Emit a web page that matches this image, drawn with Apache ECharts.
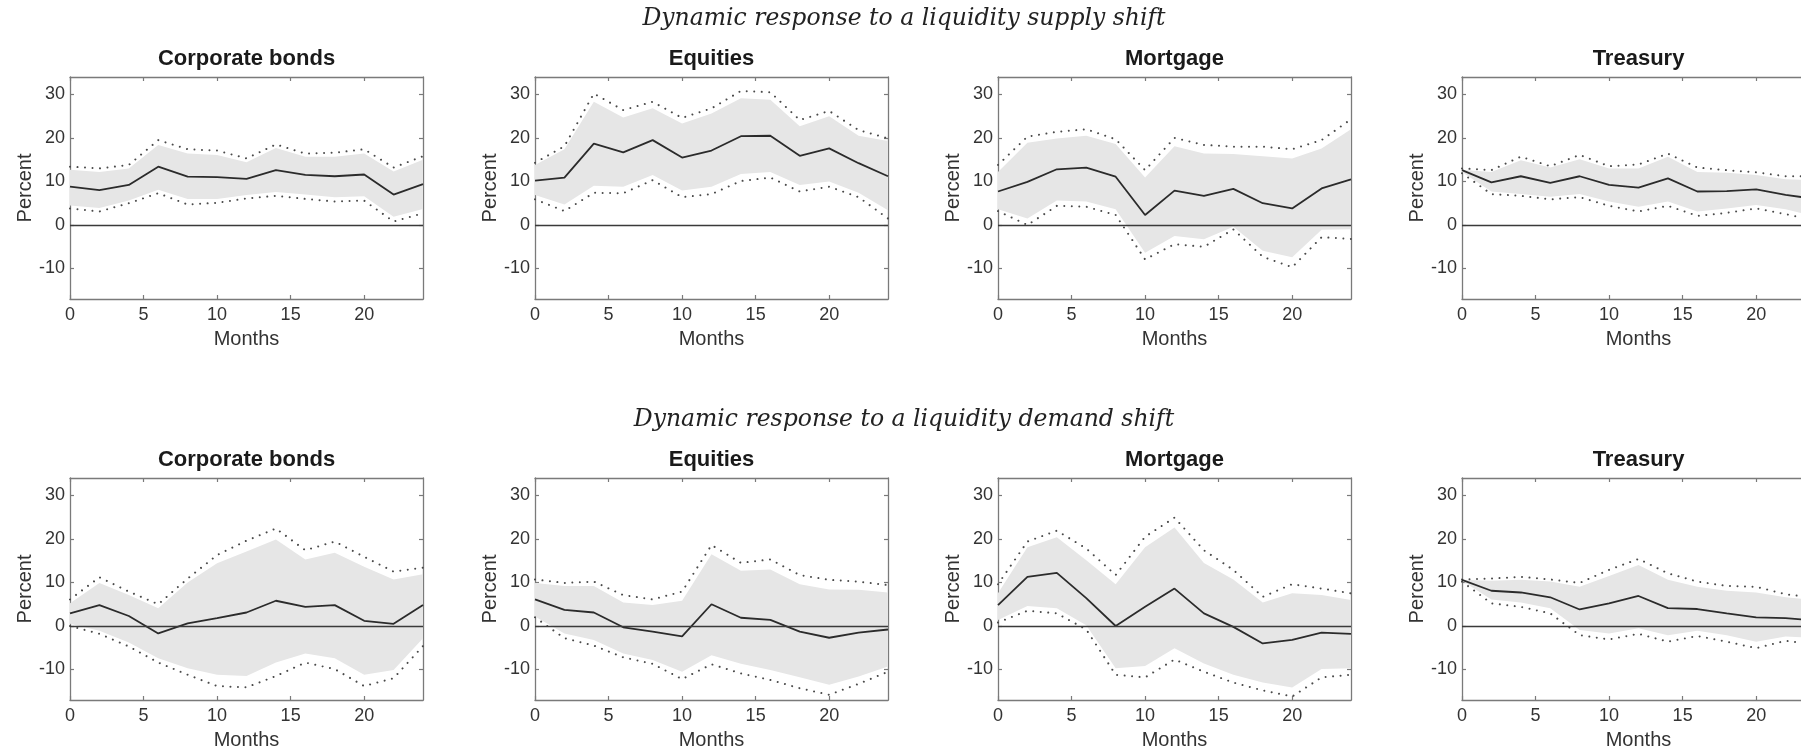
<!DOCTYPE html>
<html>
<head>
<meta charset="utf-8">
<script src="https://cdn.jsdelivr.net/npm/echarts@6/dist/echarts.min.js"></script>
<style>
  html, body { margin: 0; padding: 0; background: #ffffff; }
  #chart { width: 1801px; height: 755px; }
</style>
</head>
<body>
<div id="chart"></div>
<script>
// Horizon in months (estimates every second month)
const months = [0, 2, 4, 6, 8, 10, 12, 14, 16, 18, 20, 22, 24];
const assetNames = ['Corporate bonds', 'Equities', 'Mortgage', 'Treasury'];
const rowTitles = ['Dynamic response to a liquidity supply shift', 'Dynamic response to a liquidity demand shift'];
const xTickValues = [0, 5, 10, 15, 20];
const yTickValues = [-10, 0, 10, 20, 30];

// ---- Liquidity supply shift ----
const supplyCorpMid    = [8.8, 8.0, 9.2, 13.4, 11.1, 11.0, 10.6, 12.6, 11.5, 11.2, 11.6, 7.0, 9.4];
const supplyCorpBandHi = [12.7, 12.2, 13.0, 18.4, 16.4, 16.1, 14.4, 17.7, 15.7, 15.7, 16.4, 12.3, 15.0];
const supplyCorpBandLo = [4.5, 3.9, 5.6, 8.1, 6.0, 6.0, 6.9, 7.6, 7.0, 6.4, 6.6, 1.9, 3.7];
const supplyCorpDotHi  = [13.4, 13.0, 13.8, 19.5, 17.4, 17.1, 15.3, 18.5, 16.4, 16.6, 17.4, 13.2, 15.8];
const supplyCorpDotLo  = [3.8, 3.1, 5.0, 7.3, 4.7, 5.1, 6.1, 6.7, 6.0, 5.4, 5.6, 0.8, 2.7];

const supplyEqMid    = [10.2, 10.9, 18.7, 16.7, 19.5, 15.5, 17.1, 20.4, 20.5, 15.9, 17.6, 14.2, 11.2];
const supplyEqBandHi = [13.8, 17.4, 28.3, 24.7, 26.8, 23.3, 25.6, 29.1, 28.8, 22.7, 25.0, 20.5, 19.3];
const supplyEqBandLo = [6.9, 4.7, 9.0, 8.8, 11.5, 7.9, 8.8, 11.7, 12.2, 9.2, 10.0, 7.4, 3.4];
const supplyEqDotHi  = [14.3, 18.1, 30.2, 26.4, 28.3, 24.6, 26.8, 30.8, 30.5, 24.1, 26.2, 21.8, 19.9];
const supplyEqDotLo  = [5.9, 3.2, 7.4, 7.3, 10.3, 6.4, 7.1, 10.1, 10.9, 7.7, 8.8, 6.4, 1.5];

const supplyMortMid    = [7.7, 9.9, 12.8, 13.2, 11.1, 2.3, 7.9, 6.7, 8.3, 5.0, 3.8, 8.4, 10.5];
const supplyMortBandHi = [12.2, 18.9, 19.9, 20.5, 18.6, 10.9, 18.1, 16.4, 16.3, 15.8, 15.3, 17.6, 22.0];
const supplyMortBandLo = [3.6, 1.5, 5.6, 5.4, 3.6, -6.4, -2.5, -3.3, -0.4, -5.9, -7.4, -1.1, -1.0];
const supplyMortDotHi  = [13.8, 20.3, 21.4, 22.0, 19.7, 12.6, 20.0, 18.4, 18.0, 18.0, 17.4, 19.5, 24.3];
const supplyMortDotLo  = [3.2, 0.0, 4.4, 4.2, 2.3, -7.9, -4.4, -5.0, -1.0, -7.3, -9.7, -2.8, -3.2];

const supplyTreasMid    = [12.6, 9.8, 11.2, 9.7, 11.2, 9.2, 8.6, 10.7, 7.7, 7.8, 8.2, 6.9, 6.0];
const supplyTreasBandHi = [12.7, 12.2, 14.9, 13.2, 15.1, 13.0, 13.0, 15.7, 12.2, 12.0, 11.5, 10.5, 10.3];
const supplyTreasBandLo = [12.2, 7.7, 7.1, 6.5, 7.1, 5.4, 4.2, 5.4, 3.1, 3.8, 4.6, 3.6, 2.0];
const supplyTreasDotHi  = [13.0, 12.6, 15.7, 13.5, 16.1, 13.5, 13.9, 16.4, 13.2, 12.6, 12.1, 11.2, 11.2];
const supplyTreasDotLo  = [11.9, 7.1, 6.7, 5.9, 6.4, 4.4, 3.1, 4.4, 2.1, 2.8, 3.8, 2.5, 1.0];

// ---- Liquidity demand shift ----
const demandCorpMid    = [2.9, 4.8, 2.3, -1.7, 0.6, 1.8, 3.1, 5.8, 4.4, 4.8, 1.2, 0.5, 4.8];
const demandCorpBandHi = [5.2, 9.9, 7.1, 4.1, 10.0, 14.4, 17.1, 19.9, 15.3, 16.8, 13.6, 10.7, 11.9];
const demandCorpBandLo = [0.5, -1.1, -3.8, -7.4, -9.7, -11.2, -11.5, -8.4, -6.3, -7.4, -11.2, -10.1, -2.8];
const demandCorpDotHi  = [6.1, 11.2, 7.9, 5.0, 10.9, 16.3, 19.6, 22.4, 17.4, 19.4, 15.9, 12.5, 13.4];
const demandCorpDotLo  = [0.0, -1.8, -4.7, -8.4, -11.2, -13.8, -14.1, -11.5, -8.4, -9.9, -13.8, -12.0, -4.6];

const demandEqMid    = [6.1, 3.7, 3.1, -0.3, -1.3, -2.4, 5.0, 1.9, 1.4, -1.3, -2.7, -1.5, -0.8];
const demandEqBandHi = [9.9, 9.2, 9.2, 5.4, 4.8, 5.8, 16.5, 12.7, 13.0, 9.6, 8.4, 8.3, 7.7];
const demandEqBandLo = [2.2, -1.7, -3.2, -6.3, -7.8, -10.5, -6.7, -8.7, -10.1, -11.8, -13.5, -11.6, -9.3];
const demandEqDotHi  = [10.7, 9.9, 10.2, 7.1, 6.1, 7.9, 18.6, 14.5, 15.3, 11.7, 10.6, 10.2, 9.4];
const demandEqDotLo  = [2.0, -2.8, -4.5, -7.2, -8.7, -12.2, -8.8, -10.9, -12.4, -14.3, -15.8, -13.3, -10.5];

const demandMortMid    = [4.8, 11.3, 12.2, 6.4, 0.0, 4.4, 8.6, 2.9, -0.2, -4.0, -3.2, -1.5, -1.8];
const demandMortBandHi = [7.5, 18.1, 20.4, 15.1, 9.6, 18.1, 22.6, 14.5, 10.7, 5.4, 7.5, 7.1, 6.0];
const demandMortBandLo = [1.4, 4.6, 4.1, 0.2, -9.7, -9.2, -5.1, -8.6, -11.2, -13.0, -14.1, -9.9, -9.7];
const demandMortDotHi  = [9.6, 19.4, 21.9, 17.8, 11.7, 20.5, 24.9, 17.4, 12.9, 6.7, 9.6, 8.6, 7.5];
const demandMortDotLo  = [0.8, 3.5, 2.9, -0.8, -11.2, -11.8, -7.7, -10.5, -13.0, -14.8, -16.2, -11.8, -11.2];

const demandTreasMid    = [10.6, 8.1, 7.7, 6.6, 3.8, 5.2, 6.9, 4.1, 3.9, 2.9, 2.0, 1.8, 1.3];
const demandTreasBandHi = [10.6, 10.4, 10.6, 10.2, 9.0, 11.5, 14.0, 10.6, 9.0, 8.1, 7.7, 6.6, 6.0];
const demandTreasBandLo = [10.4, 6.1, 5.4, 4.1, -0.9, -1.7, -0.5, -2.1, -1.1, -2.1, -3.6, -2.4, -2.8];
const demandTreasDotHi  = [10.7, 10.9, 11.3, 10.7, 9.9, 12.9, 15.4, 12.1, 10.2, 9.2, 9.0, 7.3, 6.5];
const demandTreasDotLo  = [10.2, 5.2, 4.4, 2.9, -2.1, -3.1, -1.8, -3.6, -2.3, -3.6, -5.1, -3.4, -4.2];

// Panel list: row 0 = supply shift, row 1 = demand shift
const panels = [
  { row: 0, col: 0, mid: supplyCorpMid,  bandHi: supplyCorpBandHi,  bandLo: supplyCorpBandLo,  dotHi: supplyCorpDotHi,  dotLo: supplyCorpDotLo },
  { row: 0, col: 1, mid: supplyEqMid,    bandHi: supplyEqBandHi,    bandLo: supplyEqBandLo,    dotHi: supplyEqDotHi,    dotLo: supplyEqDotLo },
  { row: 0, col: 2, mid: supplyMortMid,  bandHi: supplyMortBandHi,  bandLo: supplyMortBandLo,  dotHi: supplyMortDotHi,  dotLo: supplyMortDotLo },
  { row: 0, col: 3, mid: supplyTreasMid, bandHi: supplyTreasBandHi, bandLo: supplyTreasBandLo, dotHi: supplyTreasDotHi, dotLo: supplyTreasDotLo },
  { row: 1, col: 0, mid: demandCorpMid,  bandHi: demandCorpBandHi,  bandLo: demandCorpBandLo,  dotHi: demandCorpDotHi,  dotLo: demandCorpDotLo },
  { row: 1, col: 1, mid: demandEqMid,    bandHi: demandEqBandHi,    bandLo: demandEqBandLo,    dotHi: demandEqDotHi,    dotLo: demandEqDotLo },
  { row: 1, col: 2, mid: demandMortMid,  bandHi: demandMortBandHi,  bandLo: demandMortBandLo,  dotHi: demandMortDotHi,  dotLo: demandMortDotLo },
  { row: 1, col: 3, mid: demandTreasMid, bandHi: demandTreasBandHi, bandLo: demandTreasBandLo, dotHi: demandTreasDotHi, dotLo: demandTreasDotLo }
];

// Layout
const gridLefts = [70, 535, 998, 1462];
const gridTops = [77, 478];
const gridW = 353;
const gridH = 222;
const titleYs = [59, 460];
const rowTitleYs = [19, 420];
const rowTitleX = 904;

const SANS = '"Liberation Sans", Arial, Helvetica, sans-serif';
const SERIF = '"DejaVu Serif", "Liberation Serif", serif';
const boxColor = '#7a7a7a';
const textColor = '#333333';
const lineColor = '#2b2b2b';
const bandColor = '#e6e6e6';

const pairs = arr => months.map((m, i) => [m, arr[i]]);

const grids = [], xAxes = [], yAxes = [], series = [], graphics = [];

panels.forEach((p, k) => {
  const left = gridLefts[p.col], top = gridTops[p.row];
  grids.push({ left, top, width: gridW, height: gridH, show: false, containLabel: false, outerBoundsMode: 'none' });

  const axisLine = { show: true, onZero: false, lineStyle: { color: boxColor, width: 1.3 } };
  const tickX = { show: true, inside: true, length: 4, customValues: xTickValues, lineStyle: { color: boxColor, width: 1.2 } };
  const tickY = { show: true, inside: true, length: 4, customValues: yTickValues, lineStyle: { color: boxColor, width: 1.2 } };

  xAxes.push({
    gridIndex: k, type: 'value', min: 0, max: 24, position: 'bottom',
    axisLine, axisTick: tickX, splitLine: { show: false },
    axisLabel: { customValues: xTickValues, margin: 7, fontSize: 18, color: textColor, fontFamily: SANS },
    name: 'Months', nameLocation: 'middle', nameGap: 30,
    nameTextStyle: { fontSize: 20, color: textColor, fontFamily: SANS }
  });
  xAxes.push({
    gridIndex: k, type: 'value', min: 0, max: 24, position: 'top',
    axisLine, axisTick: tickX, splitLine: { show: false }, axisLabel: { show: false }
  });
  yAxes.push({
    gridIndex: k, type: 'value', min: -17, max: 34, position: 'left',
    axisLine, axisTick: tickY, splitLine: { show: false },
    axisLabel: { customValues: yTickValues, margin: 5, fontSize: 18, color: textColor, fontFamily: SANS },
    name: 'Percent', nameLocation: 'middle', nameGap: 35, nameRotate: 90,
    nameTextStyle: { fontSize: 20, color: textColor, fontFamily: SANS }
  });
  yAxes.push({
    gridIndex: k, type: 'value', min: -17, max: 34, position: 'right',
    axisLine, axisTick: tickY, splitLine: { show: false }, axisLabel: { show: false }
  });

  const xi = 2 * k, yi = 2 * k;

  // shaded confidence band
  series.push({
    type: 'custom', xAxisIndex: xi, yAxisIndex: yi, silent: true, z: 1,
    data: months.map((m, i) => [m, p.bandLo[i], p.bandHi[i]]),
    encode: { x: 0, y: [1, 2] },
    renderItem: (params, api) => {
      if (params.dataIndex !== 0) return null;
      const upper = months.map((m, i) => api.coord([m, p.bandHi[i]]));
      const lower = months.map((m, i) => api.coord([m, p.bandLo[i]])).reverse();
      return { type: 'polygon', shape: { points: upper.concat(lower) }, style: { fill: bandColor } };
    }
  });

  // dotted outer bands
  [p.dotHi, p.dotLo].forEach(arr => {
    series.push({
      type: 'line', xAxisIndex: xi, yAxisIndex: yi, silent: true, z: 3,
      data: pairs(arr), symbol: 'none', showSymbol: false,
      lineStyle: { color: '#4a4a4a', width: 2, type: [0.01, 7.5], cap: 'round' }
    });
  });

  // point estimate with zero reference line
  series.push({
    type: 'line', xAxisIndex: xi, yAxisIndex: yi, silent: true, z: 4,
    data: pairs(p.mid), symbol: 'none', showSymbol: false,
    lineStyle: { color: lineColor, width: 1.8 },
    markLine: {
      silent: true, symbol: ['none', 'none'], label: { show: false },
      lineStyle: { color: '#3a3a3a', width: 1.4, type: 'solid' },
      data: [{ yAxis: 0 }]
    }
  });

  graphics.push({
    type: 'text', x: left + gridW / 2, y: titleYs[p.row], silent: true,
    style: { text: assetNames[p.col], fontSize: 22, fontWeight: 'bold', fontFamily: SANS,
             fill: '#1a1a1a', align: 'center', verticalAlign: 'middle' }
  });
});

rowTitles.forEach((t, r) => {
  graphics.push({
    type: 'text', x: rowTitleX, y: rowTitleYs[r], silent: true,
    style: { text: t, fontSize: 23.5, fontStyle: 'italic', fontFamily: SERIF,
             fill: '#222222', align: 'center', verticalAlign: 'middle' }
  });
});

const chart = echarts.init(document.getElementById('chart'), null, { renderer: 'canvas' });
chart.setOption({
  animation: false,
  backgroundColor: '#ffffff',
  grid: grids,
  xAxis: xAxes,
  yAxis: yAxes,
  series: series,
  graphic: graphics
});
</script>
</body>
</html>
